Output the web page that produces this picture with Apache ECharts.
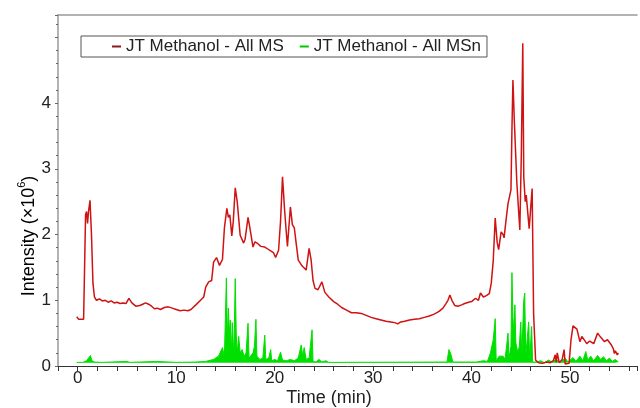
<!DOCTYPE html>
<html>
<head>
<meta charset="utf-8">
<script src="https://cdn.jsdelivr.net/npm/echarts@6/dist/echarts.min.js"></script>
<style>
html,body{margin:0;padding:0;background:#fff}
#chart{width:640px;height:408px}
</style>
</head>
<body>
<div id="chart"></div>
<script>
// legend names
var seriesNames = ['JT Methanol - All MS', 'JT Methanol - All MSn']

// tick labels shown on the axes
var xTickLabels = [0, 10, 20, 30, 40, 50]
var yTickLabels = [0, 1, 2, 3, 4]

// All MS trace (time in min, intensity x10^6)
var msTime = [-0.1, 0.1, 0.3, 0.6, 0.75, 0.8, 0.9, 1.0, 1.1, 1.25, 1.4, 1.55, 1.7, 1.9, 2.2, 2.5, 2.8, 3.1, 3.4, 3.7,
	4.0, 4.3, 4.6, 4.9, 5.2, 5.5, 5.9, 6.3, 6.6, 6.9, 7.2, 7.5, 7.8, 8.1, 8.4, 8.8, 9.2, 9.6, 10.0, 10.4,
	10.8, 11.2, 11.5, 12.0, 12.4, 12.8, 13.0, 13.3, 13.6, 13.8, 14.1, 14.4, 14.7, 14.9, 15.15, 15.3, 15.45, 15.65, 15.8, 16.0,
	16.2, 16.5, 16.85, 17.0, 17.3, 17.5, 17.8, 18.0, 18.3, 18.6, 19.0, 19.3, 19.6, 19.9, 20.1, 20.4, 20.6, 20.8, 21.0, 21.15,
	21.3, 21.6, 21.8, 22.0, 22.2, 22.4, 22.6, 22.8, 23.2, 23.5, 23.7, 23.9, 24.1, 24.4, 24.8, 25.1, 25.5, 26.0, 26.4, 26.8,
	27.3, 27.8, 28.3, 28.8, 29.3, 29.8, 30.3, 30.8, 31.3, 31.8, 32.2, 32.5, 32.8, 33.2, 33.7, 34.2, 34.7, 35.2, 35.7, 36.2,
	36.7, 37.1, 37.4, 37.6, 37.8, 38.0, 38.3, 38.6, 39.0, 39.3, 39.7, 40.0, 40.4, 40.7, 40.9, 41.2, 41.5, 41.8, 42.0, 42.2,
	42.4, 42.6, 42.75, 43.0, 43.2, 43.3, 43.5, 43.7, 43.9, 44.0, 44.1, 44.2, 44.35, 44.6, 44.9, 45.05, 45.2, 45.3, 45.45, 45.55,
	45.7, 45.85, 46.0, 46.15, 46.3, 46.5, 46.8, 47.2, 47.6, 48.0, 48.3, 48.5, 48.6, 48.7, 48.9, 49.2, 49.4, 49.5, 49.9, 50.1,
	50.3, 50.5, 50.7, 51.0, 51.2, 51.4, 51.7, 52.0, 52.4, 52.8, 53.1, 53.5, 53.8, 54.2, 54.4, 54.5, 54.6, 54.8, 54.9]
var msIntensity = [0.75, 0.71, 0.70, 0.71, 0.72, 2.3, 2.35, 2.17, 2.35, 2.52, 2.0, 1.26, 1.05, 1.0, 1.02, 0.99, 1.0, 0.97, 0.99, 0.96,
	0.97, 0.95, 0.96, 0.95, 1.03, 0.96, 0.91, 0.92, 0.94, 0.96, 0.94, 0.91, 0.87, 0.88, 0.86, 0.89, 0.90, 0.88, 0.86, 0.84,
	0.85, 0.84, 0.86, 0.93, 0.99, 1.05, 1.2, 1.28, 1.3, 1.58, 1.65, 1.53, 1.62, 2.1, 2.4, 2.26, 2.3, 1.98, 2.2, 2.71,
	2.5, 1.99, 1.87, 1.93, 2.26, 2.09, 1.81, 1.89, 1.86, 1.82, 1.81, 1.78, 1.75, 1.72, 1.65, 1.76, 2.2, 2.88, 2.4, 2.1,
	1.82, 2.42, 2.15, 2.1, 1.85, 1.61, 1.63, 1.52, 1.46, 1.79, 1.62, 1.3, 1.18, 1.16, 1.28, 1.12, 1.05, 0.98, 0.94, 0.89,
	0.85, 0.81, 0.81, 0.80, 0.77, 0.74, 0.72, 0.70, 0.68, 0.67, 0.66, 0.64, 0.67, 0.68, 0.70, 0.71, 0.72, 0.74, 0.76, 0.79,
	0.83, 0.88, 0.95, 1.0, 1.08, 1.0, 0.92, 0.91, 0.93, 0.95, 0.97, 0.98, 1.03, 1.0, 1.11, 1.05, 1.07, 1.1, 1.26, 1.6,
	2.25, 1.88, 1.77, 2.04, 2.0, 1.95, 2.22, 2.47, 2.5, 2.68, 3.6, 4.35, 3.7, 2.78, 2.07, 3.2, 4.91, 2.88, 2.5, 2.6,
	2.58, 2.09, 2.1, 2.70, 0.8, 0.09, 0.05, 0.04, 0.06, 0.05, 0.08, 0.17, 0.06, 0.2, 0.05, 0.1, 0.25, 0.03, 0.04, 0.4,
	0.61, 0.6, 0.56, 0.37, 0.45, 0.43, 0.34, 0.38, 0.34, 0.50, 0.44, 0.37, 0.40, 0.32, 0.26, 0.19, 0.23, 0.17, 0.2]

// All MSn trace
var msnTime = [-0.1, 0.5, 0.9, 1.1, 1.3, 1.45, 1.7, 2.5, 5.0, 5.3, 8.0, 8.2, 10.0, 12.0, 13.0, 13.8, 14.3, 14.7, 14.9, 15.1,
	15.2, 15.3, 15.4, 15.5, 15.6, 15.7, 15.85, 16.0, 16.1, 16.2, 16.35, 16.5, 16.7, 16.9, 17.1, 17.3, 17.4, 17.6, 17.8, 17.95,
	18.1, 18.2, 18.5, 18.8, 19.0, 19.1, 19.4, 19.6, 19.7, 20.0, 20.3, 20.6, 20.8, 21.2, 21.6, 22.0, 22.4, 22.7, 22.85, 23.0,
	23.2, 23.5, 23.8, 23.9, 24.2, 24.5, 24.8, 25.2, 25.5, 37.5, 37.7, 37.9, 38.1, 40.5, 41.2, 41.6, 41.9, 42.2, 42.4, 42.5,
	42.8, 43.0, 43.2, 43.4, 43.7, 43.8, 44.0, 44.1, 44.2, 44.3, 44.4, 44.5, 44.7, 44.85, 45.0, 45.1, 45.3, 45.4, 45.5, 45.8,
	45.9, 46.1, 46.2, 46.6, 47.0, 47.4, 47.8, 48.2, 48.6, 49.0, 49.5, 49.8, 50.3, 50.6, 51.0, 51.3, 51.6, 51.8, 52.1, 52.4,
	52.8, 53.1, 53.4, 53.7, 54.0, 54.3, 54.6, 54.9]
var msnIntensity = [0.055, 0.055, 0.08, 0.12, 0.16, 0.08, 0.06, 0.055, 0.07, 0.055, 0.07, 0.055, 0.055, 0.06, 0.07, 0.1, 0.15, 0.28, 0.15, 1.34,
	0.4, 0.88, 0.5, 0.7, 0.2, 0.66, 0.15, 1.33, 0.5, 0.2, 0.45, 0.2, 0.25, 0.15, 0.2, 0.65, 0.12, 0.15, 0.2, 0.3,
	0.71, 0.15, 0.1, 0.12, 0.47, 0.1, 0.12, 0.25, 0.08, 0.1, 0.08, 0.21, 0.09, 0.08, 0.1, 0.08, 0.12, 0.32, 0.15, 0.28,
	0.1, 0.12, 0.55, 0.07, 0.06, 0.1, 0.06, 0.08, 0.055, 0.06, 0.25, 0.18, 0.06, 0.06, 0.08, 0.07, 0.19, 0.4, 0.72, 0.08,
	0.15, 0.12, 0.15, 0.1, 0.5, 0.12, 0.3, 1.42, 0.75, 0.5, 0.93, 0.35, 0.2, 0.3, 0.67, 0.15, 1.0, 1.11, 0.15, 0.67,
	0.08, 0.6, 0.06, 0.06, 0.08, 0.05, 0.09, 0.06, 0.1, 0.05, 0.12, 0.06, 0.13, 0.07, 0.15, 0.08, 0.22, 0.09, 0.15, 0.08,
	0.16, 0.1, 0.14, 0.08, 0.12, 0.07, 0.1, 0.06]

function pairs(xs, ys) {
	return xs.map(function(x, i) { return [x, ys[i]] })
}

var font = 'Liberation Sans, Arial, sans-serif'
var chart = echarts.init(document.getElementById('chart'), null, {renderer: 'canvas'})

var option = {
	animation: false,
	backgroundColor: '#fff',
	grid: {left: 58, right: 0, top: 15, bottom: 42},
	legend: {
		left: 81, top: 36,
		orient: 'horizontal',
		data: seriesNames,
		icon: 'rect',
		itemWidth: 9, itemHeight: 2,
		itemGap: 16,
		padding: [2, 6, 2, 31],
		borderColor: '#555', borderWidth: 1,
		textStyle: {fontFamily: font, fontSize: 17, color: '#222'}
	},
	xAxis: [{
		type: 'value',
		min: -2, max: 56.8, interval: 2,
		splitLine: {show: false},
		axisLine: {onZero: false, lineStyle: {color: '#333', width: 1}},
		axisTick: {show: true, length: 5, lineStyle: {color: '#333'}},
		axisLabel: {
			margin: 4, fontFamily: font, fontSize: 17, color: '#222',
			formatter: function(v) { return xTickLabels.indexOf(v) >= 0 ? String(v) : '' }
		}
	}, {
		type: 'value', position: 'top',
		min: -2, max: 56.8,
		axisLine: {show: true, onZero: false, lineStyle: {color: '#999', width: 1.5}},
		axisTick: {show: false}, axisLabel: {show: false}, splitLine: {show: false}
	}],
	yAxis: {
		type: 'value',
		min: 0, max: 5.34, interval: 1,
		splitLine: {show: false},
		axisLine: {show: true, onZero: false, lineStyle: {color: '#999', width: 1.5}},
		axisTick: {show: true, length: 3, lineStyle: {color: '#666'}},
		minorTick: {show: true, splitNumber: 5, length: 2, lineStyle: {color: '#666'}},
		axisLabel: {
			margin: 7, fontFamily: font, fontSize: 17, color: '#222',
			formatter: function(v) { return yTickLabels.indexOf(v) >= 0 ? String(v) : '' }
		}
	},
	graphic: [{
		type: 'text',
		x: 329, y: 398,
		style: {text: 'Time (min)', align: 'center', verticalAlign: 'middle',
			font: '18px ' + font, fill: '#222'}
	}, {
		type: 'text',
		x: 27, y: 236, rotation: Math.PI / 2,
		style: {
			text: '{a|Intensity (×10}{s|6}{a|)}',
			align: 'center', verticalAlign: 'middle',
			rich: {
				a: {fontFamily: font, fontSize: 18, color: '#222', lineHeight: 22, verticalAlign: 'bottom'},
				s: {fontFamily: font, fontSize: 11, color: '#222', lineHeight: 22, verticalAlign: 'top'}
			}
		}
	}],
	series: [{
		name: seriesNames[1],
		type: 'line',
		data: pairs(msnTime, msnIntensity),
		showSymbol: false,
		z: 2,
		itemStyle: {color: '#00c800'},
		lineStyle: {color: '#00e000', width: 1},
		areaStyle: {color: '#00e000', opacity: 1, origin: 0.05}
	}, {
		name: seriesNames[0],
		type: 'line',
		data: pairs(msTime, msIntensity),
		showSymbol: false,
		z: 3,
		itemStyle: {color: '#8b1a1a'},
		lineStyle: {color: '#d01212', width: 1.5}
	}]
}
chart.setOption(option)
</script>
</body>
</html>
